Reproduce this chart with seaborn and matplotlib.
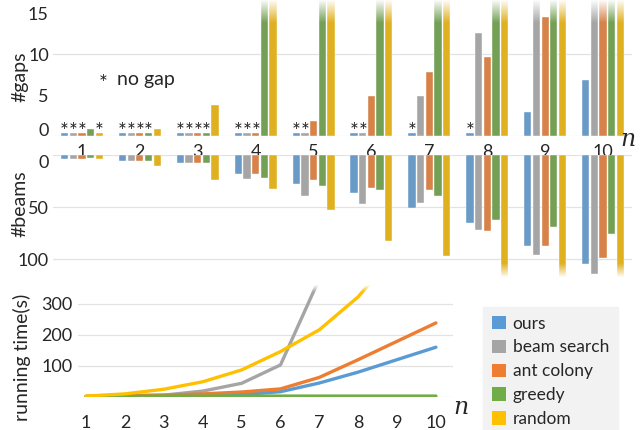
import numpy as np
import pandas as pd
import matplotlib
matplotlib.use("Agg")
import matplotlib.pyplot as plt
import seaborn as sns
from matplotlib.patches import Patch

# ---------------- data ----------------
methods = ["ours", "beam search", "ant colony", "greedy", "random"]
colors = ["#5B9BD5", "#A5A5A5", "#ED7D31", "#70AD47", "#FFC000"]
n_values = [1, 2, 3, 4, 5, 6, 7, 8, 9, 10]

# number of gaps (0 = no gap, marked with *)
gaps_ours = [0, 0, 0, 0, 0, 0, 0, 0, 2.9, 6.8]
gaps_beam = [0, 0, 0, 0, 0, 0, 4.9, 12.6, 20, 24]
gaps_ant = [0, 0, 0, 0, 1.8, 4.9, 7.8, 9.7, 14.5, 19]
gaps_greedy = [0.8, 0, 0, 20, 22, 24, 26, 28, 30, 32]
gaps_random = [0, 0.8, 3.8, 20, 23, 26, 29, 32, 35, 38]

# number of beams
beams_ours = [4, 6, 8, 18, 28, 36, 51, 65, 87, 105]
beams_beam = [4, 6, 8, 23, 39, 47, 46, 72, 96, 114]
beams_ant = [4, 6, 8, 18, 24, 32, 34, 73, 87, 99]
beams_greedy = [3, 6, 8, 22, 30, 34, 39, 62, 69, 76]
beams_random = [4, 11, 24, 33, 53, 82, 97, 130, 150, 170]

# running time (s)
time_ours = [1, 2, 3, 5, 8, 17, 45, 80, 120, 160]
time_beam = [2, 4, 6, 19, 44, 103, 380, 1500, 5000, 15000]
time_ant = [2, 4, 6, 10, 16, 26, 63, 120, 179, 238]
time_greedy = [2, 2, 3, 3, 3, 3, 3, 3, 3, 3]
time_random = [3, 10, 25, 49, 87, 146, 216, 322, 470, 650]

gaps = [gaps_ours, gaps_beam, gaps_ant, gaps_greedy, gaps_random]
beams = [beams_ours, beams_beam, beams_ant, beams_greedy, beams_random]
times = [time_ours, time_beam, time_ant, time_greedy, time_random]

rows = []
for m, g, b, t in zip(methods, gaps, beams, times):
    for n, gv, bv, tv in zip(n_values, g, b, t):
        rows.append(dict(n=n, ncat=str(n), method=m, gaps=gv, beams=bv, time=tv))
df = pd.DataFrame(rows)

STUB = 0.36
df["gaps_plot"] = df["gaps"].where(df["gaps"] > 0, STUB)

# ---------------- style ----------------
sns.set_theme(style="white")
plt.rcParams["font.family"] = ["Lato", "DejaVu Sans"]
plt.rcParams["lines.solid_capstyle"] = "round"
palette = dict(zip(methods, colors))
grid_c = "#e2e2e2"
text_c = "#262626"

W, H = 642, 430
fig = plt.figure(figsize=(W / 100, H / 100), dpi=100)


def px_axes(x0, y0, x1, y1):
    return fig.add_axes([x0 / W, 1 - y1 / H, (x1 - x0) / W, (y1 - y0) / H])


def fade(ax, x0, x1, y0, y1, amax):
    arr = np.ones((64, 1, 4))
    arr[:, 0, 3] = np.linspace(0, amax, 64)
    ax.imshow(arr, extent=(x0, x1, y0, y1), origin="lower", aspect="auto",
              zorder=5, interpolation="bilinear")


# ---------------- top: #gaps ----------------
ax1 = px_axes(53, 0, 632, 136)
sns.barplot(data=df, x="ncat", y="gaps_plot", hue="method", hue_order=methods,
            palette=palette, width=0.75, gap=0.16, edgecolor="white",
            linewidth=0.3, legend=False, ax=ax1, zorder=2)
YT = 16.6
for c_i, cont in enumerate(ax1.containers):
    for j, bar in enumerate(cont):
        v = gaps[c_i][j]
        bx = bar.get_x()
        bw = bar.get_width()
        if v == 0:
            ax1.text(bx + bw / 2, -0.3, "*", ha="center", va="baseline",
                     fontsize=15, color=text_c, zorder=6)
        if v > YT:
            fade(ax1, bx, bx + bw, 13.8, YT, 0.97)
ax1.set_xlim(-0.5, 9.5)
ax1.set_ylim(0, YT)
ax1.axhline(10, color=grid_c, lw=0.9, zorder=0)
ax1.axhline(0, color=grid_c, lw=0.9, zorder=0)
ax1.set_yticks([0, 5, 10, 15])
ax1.set_yticklabels(["0", "5", "10", "15"])
ax1.set_xticks(range(10))
ax1.set_xticklabels([str(n) for n in n_values])
ax1.tick_params(axis="y", length=0, pad=3, labelsize=13, colors=text_c)
ax1.tick_params(axis="x", length=0, pad=6, labelsize=13, colors=text_c)
ax1.get_yticklabels()[0].set_va("baseline")
ax1.set_xlabel("")
ax1.set_ylabel("")
for s in ax1.spines.values():
    s.set_visible(False)
ax1.text(0.36, 5.6, "*", fontsize=15, color=text_c, ha="center", va="baseline")
ax1.text(0.60, 6.9, "no gap", fontsize=14, color=text_c, ha="left", va="center")

# ---------------- middle: #beams ----------------
ax2 = px_axes(53, 155, 632, 277)
sns.barplot(data=df, x="ncat", y="beams", hue="method", hue_order=methods,
            palette=palette, width=0.75, gap=0.16, edgecolor="white",
            linewidth=0.3, legend=False, ax=ax2, zorder=2)
YB = 117
for c_i, cont in enumerate(ax2.containers):
    for j, bar in enumerate(cont):
        v = beams[c_i][j]
        if v > YB:
            bx = bar.get_x()
            bw = bar.get_width()
            fade(ax2, bx, bx + bw, 104, YB, 0.97)
ax2.set_xlim(-0.5, 9.5)
ax2.set_ylim(YB, 0)
for g in [0, 50, 100]:
    ax2.axhline(g, color=grid_c, lw=0.9, zorder=0)
ax2.set_yticks([0, 50, 100])
ax2.set_yticklabels(["0", "50", "100"])
ax2.set_xticks([])
ax2.tick_params(axis="y", length=0, pad=3, labelsize=13, colors=text_c)
ax2.get_yticklabels()[0].set_va("top")
ax2.set_xlabel("")
ax2.set_ylabel("")
for s in ax2.spines.values():
    s.set_visible(False)

# ---------------- bottom: running time ----------------
ax3 = px_axes(78, 285, 453, 397)
sns.lineplot(data=df, x="n", y="time", hue="method", hue_order=methods,
             palette=palette, linewidth=2.4, legend=False, ax=ax3, zorder=3)
XL = (0.79, 10.44)
YL = 360
fade(ax3, XL[0], XL[1], 338, YL, 0.97)
ax3.set_xlim(*XL)
ax3.set_ylim(0, YL)
for g in [0, 100, 200, 300]:
    ax3.axhline(g, color=grid_c, lw=0.9, zorder=0)
ax3.set_yticks([100, 200, 300])
ax3.set_yticklabels(["100", "200", "300"])
ax3.set_xticks(n_values)
ax3.set_xticklabels([str(n) for n in n_values])
ax3.tick_params(axis="y", length=0, pad=4, labelsize=13, colors=text_c)
ax3.tick_params(axis="x", length=0, pad=13, labelsize=13, colors=text_c)
ax3.set_xlabel("")
ax3.set_ylabel("")
for s in ax3.spines.values():
    s.set_visible(False)

# ---------------- labels ----------------
fig.text(20 / W, 1 - 77 / H, "#gaps", rotation=90, fontsize=14, color=text_c,
         ha="center", va="center")
fig.text(20 / W, 1 - 204 / H, "#beams", rotation=90, fontsize=14, color=text_c,
         ha="center", va="center")
fig.text(22 / W, 1 - 357 / H, "running time(s)", rotation=90, fontsize=14,
         color=text_c, ha="center", va="center")
fig.text(628 / W, 1 - 140 / H, "n", fontsize=17, style="italic",
         family="DejaVu Serif", color=text_c, ha="center", va="center")
fig.text(461 / W, 1 - 407 / H, "n", fontsize=17, style="italic",
         family="DejaVu Serif", color=text_c, ha="center", va="center")

# ---------------- legend ----------------
handles = [Patch(facecolor=c, edgecolor="none", label=m) for m, c in zip(methods, colors)]
leg = fig.legend(handles=handles, loc="upper left",
                 bbox_to_anchor=(483 / W, 1 - 307 / H), frameon=True,
                 fancybox=False, facecolor="#f2f2f2", edgecolor="#f2f2f2",
                 framealpha=1, fontsize=12.5, handlelength=0.8, handleheight=0.8,
                 labelspacing=0.45, borderpad=0.5, handletextpad=0.4,
                 borderaxespad=0)
for t in leg.get_texts():
    t.set_color(text_c)

fig.savefig("out.png", dpi=100)
